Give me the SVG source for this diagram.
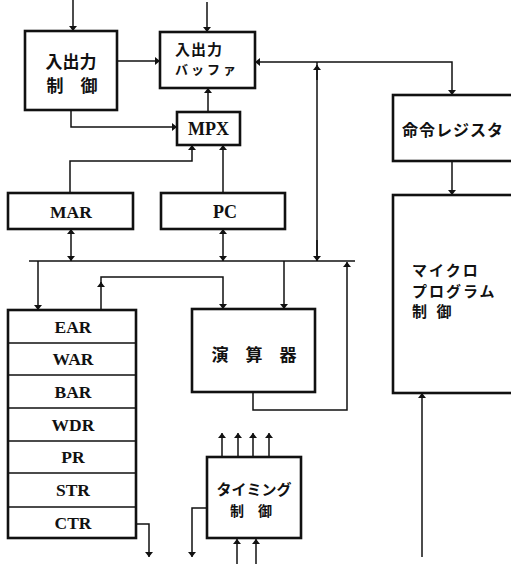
<svg xmlns="http://www.w3.org/2000/svg" width="511" height="564" viewBox="0 0 511 564">
<style>
.box{fill:#fff;stroke:#111;stroke-width:2.6}
.ln{fill:none;stroke:#111;stroke-width:1.5}
.lat{font-family:"Liberation Serif","DejaVu Serif",serif;font-weight:bold;fill:#111;text-anchor:middle}
.jp{font-family:"Noto Sans CJK JP","Noto Sans",sans-serif;font-weight:bold;fill:#111}
</style>
<defs>
<marker id="ah" viewBox="0 0 10 10" refX="10" refY="5" markerWidth="5" markerHeight="8" markerUnits="userSpaceOnUse" orient="auto-start-reverse" preserveAspectRatio="none">
<path d="M0,0 L10,5 L0,10 z" fill="#111"/>
</marker>
</defs>
<rect width="511" height="564" fill="#fff"/>
<g id="connectors">
<path class="ln" d="M73,0 V31" marker-end="url(#ah)"/>
<path class="ln" d="M207,2 V32" marker-end="url(#ah)"/>
<path class="ln" d="M117,61 H160" marker-end="url(#ah)"/>
<path class="ln" d="M71,110 V127 H177" marker-end="url(#ah)"/>
<path class="ln" d="M208,112 V88" marker-end="url(#ah)"/>
<path class="ln" d="M70,193 V161 H192 V145" marker-end="url(#ah)"/>
<path class="ln" d="M223,193 V145" marker-end="url(#ah)"/>
<path class="ln" d="M71,229 V261" marker-start="url(#ah)" marker-end="url(#ah)"/>
<path class="ln" d="M223,229 V261" marker-start="url(#ah)" marker-end="url(#ah)"/>
<path class="ln" d="M29,261 H355"/>
<path class="ln" d="M255,62 H452 V95" marker-start="url(#ah)" marker-end="url(#ah)"/>
<path class="ln" d="M317,62 V261"/>
<path class="ln" d="M317,80 V65" marker-end="url(#ah)"/>
<path class="ln" d="M317,240 V261" marker-end="url(#ah)"/>
<path class="ln" d="M452,160 V195" marker-end="url(#ah)"/>
<path class="ln" d="M422,557 V393" marker-end="url(#ah)"/>
<path class="ln" d="M38,261 V310" marker-end="url(#ah)"/>
<path class="ln" d="M101,310 V282" marker-end="url(#ah)"/>
<path class="ln" d="M101,283 V277 H223 V309" marker-end="url(#ah)"/>
<path class="ln" d="M284,261 V309" marker-end="url(#ah)"/>
<path class="ln" d="M253,392 V410 H347 V262" marker-end="url(#ah)"/>
<path class="ln" d="M222,457 V433" marker-end="url(#ah)"/>
<path class="ln" d="M238,457 V433" marker-end="url(#ah)"/>
<path class="ln" d="M253,457 V433" marker-end="url(#ah)"/>
<path class="ln" d="M269,457 V433" marker-end="url(#ah)"/>
<path class="ln" d="M237,564 V539" marker-end="url(#ah)"/>
<path class="ln" d="M256,564 V539" marker-end="url(#ah)"/>
<path class="ln" d="M208,508 H192 V557" marker-end="url(#ah)"/>
<path class="ln" d="M136,524 H149 V557" marker-end="url(#ah)"/>
</g>
<g id="io-control">
<rect class="box" x="25" y="31" width="92" height="79"/>
<text class="jp" x="71" y="68" font-size="17" text-anchor="middle">入出力</text>
<text class="jp" x="72" y="92" font-size="17" text-anchor="middle">制　御</text>
</g>
<g id="io-buffer">
<rect class="box" x="160" y="32" width="95" height="56"/>
<text class="jp" x="175" y="55" font-size="15" letter-spacing="1">入出力</text>
<text class="jp" x="175" y="74" font-size="13" letter-spacing="3">バッファ</text>
</g>
<g id="mpx">
<rect class="box" x="177" y="112" width="63" height="33"/>
<text class="lat" x="208.5" y="134.5" font-size="18">MPX</text>
</g>
<g id="mar">
<rect class="box" x="8" y="193" width="125" height="36"/>
<text class="lat" x="71" y="218" font-size="17.5">MAR</text>
</g>
<g id="pc">
<rect class="box" x="161" y="193" width="124" height="36"/>
<text class="lat" x="225" y="218" font-size="18">PC</text>
</g>
<g id="instruction-register">
<rect class="box" x="393" y="95" width="125" height="66"/>
<text class="jp" x="402" y="136" font-size="16" letter-spacing="1">命令レジスタ</text>
</g>
<g id="microprogram-control">
<rect class="box" x="393" y="195" width="125" height="198"/>
<text class="jp" x="412" y="276" font-size="15" letter-spacing="2" font-weight="500">マイクロ</text>
<text class="jp" x="412" y="297" font-size="15" letter-spacing="2" font-weight="500">プログラム</text>
<text class="jp" x="412" y="317" font-size="15" font-weight="500" letter-spacing="3">制 御</text>
</g>
<g id="register-stack">
<rect class="box" x="8" y="310" width="128" height="228"/>
<path class="ln" stroke-width="2" d="M8,343 H136 M8,375 H136 M8,408 H136 M8,441 H136 M8,473 H136 M8,507 H136"/>
<text class="lat" x="73" y="333" font-size="17.5">EAR</text>
<text class="lat" x="73" y="365" font-size="17.5">WAR</text>
<text class="lat" x="73" y="398" font-size="17.5">BAR</text>
<text class="lat" x="73" y="431" font-size="17.5">WDR</text>
<text class="lat" x="73" y="463" font-size="17.5">PR</text>
<text class="lat" x="73" y="496" font-size="17.5">STR</text>
<text class="lat" x="73" y="529" font-size="17.5">CTR</text>
</g>
<g id="alu">
<rect class="box" x="192" y="309" width="123" height="83"/>
<text class="jp" x="254" y="361" font-size="17" text-anchor="middle">演　算　器</text>
</g>
<g id="timing-control">
<rect class="box" x="207" y="457" width="94" height="81"/>
<text class="jp" x="254" y="495" font-size="15" text-anchor="middle" font-weight="500">タイミング</text>
<text class="jp" x="251" y="516" font-size="14" text-anchor="middle">制　御</text>
</g>
</svg>
